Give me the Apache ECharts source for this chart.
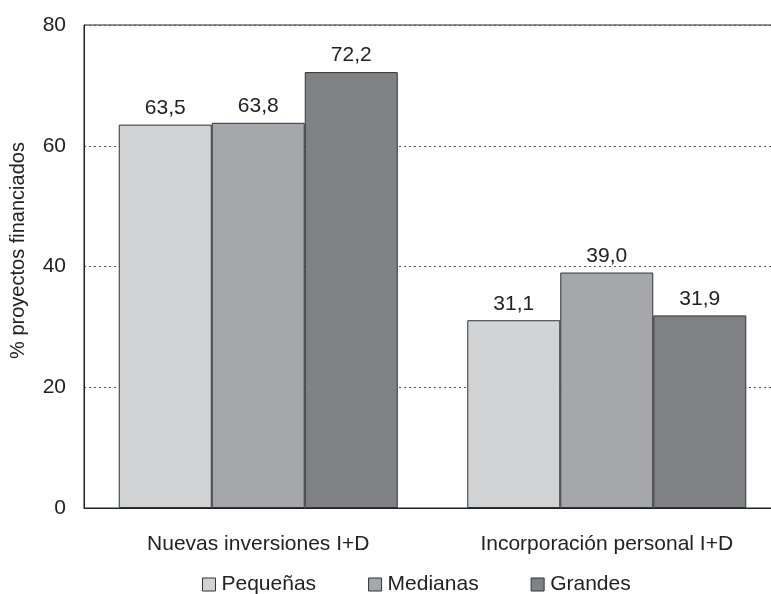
<!DOCTYPE html>
<html><head><meta charset="utf-8">
<script src="https://cdn.jsdelivr.net/npm/echarts@6/dist/echarts.min.js"></script>
<style>html,body{margin:0;padding:0;background:#fff}#c{width:771px;height:594px}</style>
</head><body><div id="c"></div>
<script>
const categories = ['Nuevas inversiones I+D', 'Incorporación personal I+D'];
const seriesNames = ['Pequeñas', 'Medianas', 'Grandes'];
const pequenas = [63.5, 31.1];
const medianas = [63.8, 39.0];
const grandes = [72.2, 31.9];
const colors = ['#d2d3d5', '#a6a7ab', '#808184'];
const yTicks = [0, 20, 40, 60, 80];

const chart = echarts.init(document.getElementById('c'), null, {renderer: 'canvas'});
const font = 'Liberation Sans, Arial, sans-serif';
const data = [pequenas, medianas, grandes];
const series = seriesNames.map((n, i) => ({
  name: n, type: 'bar', data: data[i], barWidth: 93, barGap: '0%',
  itemStyle: {color: colors[i], borderColor: '#333', borderWidth: 1},
  label: {show: true, position: 'top', distance: 6, fontFamily: font, fontSize: 21, color: '#222',
    formatter: p => p.value.toFixed(1).replace('.', ',')}
}));
chart.setOption({
  animation: false,
  textStyle: {fontFamily: font},
  grid: {left: 84, top: 25, width: 697, bottom: 86, show: true, borderColor: '#222', borderWidth: 1,
    containLabel: false, outerBoundsMode: 'none'},
  legend: {
    top: 569, left: 197, itemWidth: 13, itemHeight: 13, itemGap: 52,
    icon: 'rect', textStyle: {fontFamily: font, fontSize: 21, color: '#222', padding: [0, 0, 0, 1]},
    itemStyle: {borderColor: '#333', borderWidth: 1},
    data: seriesNames
  },
  xAxis: {
    type: 'category', data: categories,
    axisLine: {lineStyle: {color: '#222'}}, axisTick: {show: false},
    axisLabel: {fontSize: 21, color: '#222', margin: 26, fontFamily: font}
  },
  yAxis: {
    type: 'value', min: 0, max: 80, interval: 20,
    name: '% proyectos financiados', nameLocation: 'middle', nameGap: 56, nameRotate: 90,
    nameTextStyle: {fontSize: 20, color: '#222', fontFamily: font, padding: [0, 0, 0, 32]},
    axisLine: {show: true, lineStyle: {color: '#222'}},
    axisTick: {show: false},
    axisLabel: {fontSize: 21, color: '#222', margin: 18, fontFamily: font,
      formatter: v => yTicks.includes(v) ? String(v) : ''},
    splitLine: {show: true, lineStyle: {type: [2, 3], color: '#555'}}
  },
  series
});
</script></body></html>
